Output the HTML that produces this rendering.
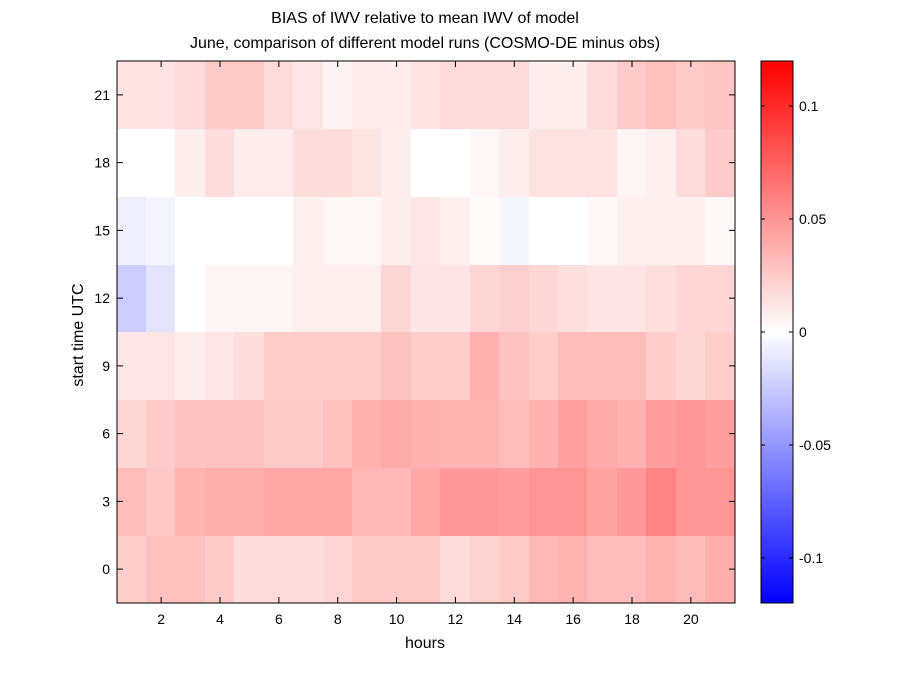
<!DOCTYPE html>
<html><head><meta charset="utf-8"><style>body{margin:0;background:#fff}svg{display:block}text{font-family:"Liberation Sans",sans-serif;fill:#000}</style></head>
<body>
<svg width="900" height="675" viewBox="0 0 900 675" xmlns="http://www.w3.org/2000/svg">
<defs><linearGradient id="cb" x1="0" y1="1" x2="0" y2="0"><stop offset="0" stop-color="#0000ff"/><stop offset="0.5" stop-color="#ffffff"/><stop offset="1" stop-color="#ff0000"/></linearGradient></defs>
<g id="cells"></g>
<rect x="117" y="61" width="618" height="542" fill="none" stroke="#000" stroke-width="1"/>
<g id="ticks" stroke="#000" stroke-width="1"></g>
<g id="labels" font-size="14"></g>
<rect x="761" y="61" width="32" height="542" fill="url(#cb)" stroke="#000"/>
<g stroke="#000">
<line x1="761" y1="106" x2="765" y2="106"/><line x1="789" y1="106" x2="793" y2="106"/>
<line x1="761" y1="219" x2="765" y2="219"/><line x1="789" y1="219" x2="793" y2="219"/>
<line x1="761" y1="332" x2="765" y2="332"/><line x1="789" y1="332" x2="793" y2="332"/>
<line x1="761" y1="445" x2="765" y2="445"/><line x1="789" y1="445" x2="793" y2="445"/>
<line x1="761" y1="558" x2="765" y2="558"/><line x1="789" y1="558" x2="793" y2="558"/>
</g>
<g font-size="14">
<text x="799" y="111">0.1</text><text x="799" y="224">0.05</text><text x="799" y="337">0</text><text x="799" y="450">-0.05</text><text x="799" y="563">-0.1</text>
</g>
<text x="425" y="23" font-size="16" text-anchor="middle">BIAS of IWV relative to mean IWV of model</text>
<text x="425" y="48" font-size="16" text-anchor="middle">June, comparison of different model runs (COSMO-DE minus obs)</text>
<text x="425" y="648" font-size="16" text-anchor="middle">hours</text>
<text transform="translate(83,335) rotate(-90)" font-size="16" text-anchor="middle">start time UTC</text>
<script>
var rows={
21:"ffe3e3 ffe3e3 ffdada ffcaca ffcaca ffdada ffe6e6 fff4f4 ffecec ffecec ffe3e3 ffdcdc ffdcdc ffdcdc ffeeee ffeeee ffdcdc ffcaca ffc0c0 ffcaca ffc4c4",
18:"ffffff ffffff ffeeee ffdddd ffecec ffecec ffdddd ffdddd ffe4e4 ffeeee ffffff ffffff fff6f6 ffeeee ffe3e3 ffe3e3 ffe3e3 fff5f5 ffefef ffdcdc ffcaca",
15:"eeeeff f5f5ff ffffff ffffff ffffff ffffff fff0f0 fff6f6 fff6f6 ffeeee ffe6e6 ffefef fffafa f6f6ff ffffff ffffff fff8f8 ffefef ffefef ffefef fff8f8",
12:"ccccff e4e4ff ffffff fff5f5 fff5f5 fff5f5 ffefef ffefef ffefef ffd6d6 ffe5e5 ffe5e5 ffd6d6 ffcece ffd6d6 ffdede ffe5e5 ffe5e5 ffdede ffd5d5 ffd5d5",
9:"ffe6e6 ffe6e6 ffeeee ffe6e6 ffdddd ffcccc ffcccc ffcccc ffcccc ffc2c2 ffcccc ffcccc ffb0b0 ffc2c2 ffcccc ffbcbc ffbcbc ffbcbc ffcccc ffd6d6 ffcccc",
6:"ffd6d6 ffcaca ffc2c2 ffc2c2 ffc2c2 ffcaca ffcaca ffc0c0 ffb0b0 ffaaaa ffb0b0 ffb4b4 ffb4b4 ffbcbc ffb0b0 ffa0a0 ffaaaa ffb0b0 ff9c9c ff9696 ff9e9e",
3:"ffbcbc ffc8c8 ffb4b4 ffaeae ffaeae ffa6a6 ffa6a6 ffa6a6 ffb6b6 ffb6b6 ffa6a6 ff9898 ff9898 ff9c9c ff9494 ff9494 ffa2a2 ff9898 ff8484 ff9696 ff9696",
0:"ffcccc ffc0c0 ffc0c0 ffcaca ffdcdc ffdcdc ffdcdc ffd4d4 ffcaca ffcaca ffcaca ffdcdc ffd2d2 ffcaca ffb8b8 ffb2b2 ffbcbc ffbcbc ffb2b2 ffbaba ffaeae"};
var NS="http://www.w3.org/2000/svg",g=document.getElementById("cells"),cw=618/21,rh=542/8;
function el(n,a,p){var e=document.createElementNS(NS,n);for(var k in a)e.setAttribute(k,a[k]);p.appendChild(e);return e;}
for(var r in rows){var i=r/3,cs=rows[r].split(" ");for(var c=0;c<21;c++){var x0=Math.floor(117+c*cw),x1=Math.ceil(117+(c+1)*cw),y0=Math.floor(603-(i+1)*rh),y1=Math.ceil(603-i*rh);el("rect",{x:x0,y:y0,width:x1-x0,height:y1-y0,fill:"#"+cs[c]},g);}}
var t=document.getElementById("ticks"),l=document.getElementById("labels");
for(var h=2;h<=20;h+=2){var x=117+(h-0.5)*cw;el("line",{x1:x,y1:603,x2:x,y2:597},t);el("line",{x1:x,y1:61,x2:x,y2:67},t);var tx=el("text",{x:x,y:624,"text-anchor":"middle"},l);tx.textContent=h;}
for(var i=0;i<8;i++){var y=603-(i+0.5)*rh;el("line",{x1:117,y1:y,x2:123,y2:y},t);el("line",{x1:735,y1:y,x2:729,y2:y},t);var ty=el("text",{x:110,y:y+5,"text-anchor":"end"},l);ty.textContent=i*3;}
</script>
</svg>
</body></html>
